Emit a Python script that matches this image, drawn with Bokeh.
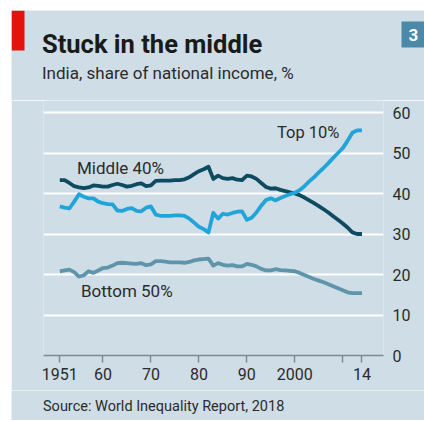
from bokeh.plotting import figure
from bokeh.models import Range1d, FixedTicker, Label, BoxAnnotation, Spacer
from bokeh.layouts import column, row
from bokeh.embed import file_html
from bokeh.resources import INLINE

years = list(range(1951, 2015))

middle40 = [43.3, 43.3, 42.6, 41.8, 41.5, 41.3, 41.5, 42.0, 41.9, 41.7,
            41.7, 42.1, 42.4, 42.1, 41.7, 41.9, 42.3, 42.5, 41.8, 42.0,
            43.1, 43.2, 43.2, 43.2, 43.3, 43.3, 43.5, 44.0, 44.8, 45.5,
            46.0, 46.6, 43.6, 44.4, 43.8, 43.6, 43.8, 43.4, 43.3, 44.4,
            44.2, 43.6, 42.6, 41.6, 41.2, 41.3, 40.9, 40.6, 40.3, 40.0,
            39.6, 39.0, 38.3, 37.6, 36.9, 36.1, 35.3, 34.4, 33.5, 32.6,
            31.6, 30.4, 30.0, 30.0]

top10 = [36.8, 36.5, 36.3, 38.0, 39.8, 39.2, 38.8, 38.8, 38.0, 37.6,
         37.4, 37.3, 35.8, 35.7, 36.2, 36.4, 35.7, 35.6, 36.5, 36.8,
         34.8, 34.5, 34.5, 34.5, 34.6, 34.6, 34.5, 33.8, 32.8, 31.8,
         31.2, 30.4, 35.2, 33.8, 35.0, 34.8, 35.2, 35.5, 35.6, 33.5,
         34.0, 35.3, 37.0, 38.4, 38.8, 38.3, 38.9, 39.4, 39.8, 40.2,
         40.8, 41.8, 43.0, 44.0, 45.2, 46.3, 47.5, 48.8, 50.0, 51.2,
         53.0, 55.0, 55.6, 55.6]

bottom50 = [20.8, 21.0, 21.2, 20.6, 19.5, 19.8, 20.8, 20.4, 21.0, 21.6,
            21.7, 22.2, 22.8, 22.9, 22.8, 22.7, 22.6, 22.8, 22.3, 22.5,
            23.3, 23.3, 23.2, 23.0, 23.0, 23.0, 22.9, 23.1, 23.5, 23.7,
            23.8, 23.9, 22.2, 22.8, 22.4, 22.2, 22.3, 22.0, 22.0, 22.6,
            22.4, 22.0, 21.4, 21.0, 21.0, 21.3, 21.1, 21.0, 20.9, 20.8,
            20.4, 19.9, 19.4, 18.9, 18.5, 18.1, 17.6, 17.1, 16.6, 16.1,
            15.6, 15.4, 15.4, 15.4]

x_ticks = [1951, 1960, 1970, 1980, 1990, 2000, 2010, 2014]
x_tick_labels = ["1951", "60", "70", "80", "90", "2000", "", "14"]
y_ticks = [0, 10, 20, 30, 40, 50, 60]
grid_ticks = [10, 20, 30, 40, 50, 60]

title_text = "Stuck in the middle"
subtitle_text = "India, share of national income, %"
source_text = "Source: World Inequality Report, 2018"
chart_number = "3"

PANEL = "#cedde6"
C_MID = "#0e4b60"
C_TOP = "#21a5d9"
C_BOT = "#5e95aa"
TXT = "#2b2b2b"
FONT = "Roboto"
K_BASE = 0.33  # empirical baseline correction (fraction of font size)

# page layout (screen px): panel starts at (11, 10)
X0, Y0 = 11, 10
W = 413
HEAD_H = 90          # screen y 10..100
MAIN_H = 290         # screen y 100..390
FOOT_H = 30          # screen y 390..420

# main frame (screen px)
FL, FR, FT, FB = 43, 383, 100, 355
PPX = 4.796
PPY = 4.05
xr0 = 1951 - (59.3 - FL) / PPX
xr1 = xr0 + (FR - FL) / PPX
yr1 = (FB - FT) / PPY


def dx(sx):
    return xr0 + (sx - FL) / PPX


def dy(sy):
    return (FB - sy) / PPY


def plain_fig(h):
    f = figure(width=W, height=h, x_range=Range1d(0, W), y_range=Range1d(0, h),
               output_backend="svg", toolbar_location=None,
               x_axis_location=None, y_axis_location=None, min_border=0)
    f.background_fill_color = PANEL
    f.border_fill_color = PANEL
    f.outline_line_color = None
    f.grid.visible = False
    return f


def add_text(f, text, x, y, size, bold=False, color=TXT, align="left", baseline="alphabetic"):
    f.add_layout(Label(x=x, y=y, text=text, text_font=FONT,
                       text_font_size="%gpx" % size, text_color=color,
                       text_font_style="bold" if bold else "normal",
                       text_align=align, text_baseline=baseline))


# ---------- header ----------
head = plain_fig(HEAD_H)
hb = Y0 + HEAD_H  # screen y of header bottom


def hx(sx):
    return sx - X0


def hy(sy):
    return hb - sy


head.add_layout(BoxAnnotation(left=hx(11), right=hx(24), top=hy(10), bottom=hy(50),
                              fill_color="#e3120b", fill_alpha=1, line_color=None))
head.add_layout(BoxAnnotation(left=hx(401), right=hx(424), top=hy(21), bottom=hy(47),
                              fill_color="#4a89a8", fill_alpha=1, line_color=None))
add_text(head, chart_number, hx(413), hy(34.5), 17, bold=True, color="white",
         align="center", baseline="middle")
add_text(head, title_text, hx(41.5), hy(51.7 - K_BASE * 25.5), 25.5, bold=True, color="#1a1a1a")
add_text(head, subtitle_text, hx(41.5), hy(78.3 - K_BASE * 17), 17)

# ---------- main chart ----------
p = figure(width=W, height=MAIN_H, x_range=Range1d(xr0, xr1), y_range=Range1d(0, yr1),
           output_backend="svg", toolbar_location=None, y_axis_location="right",
           min_border_left=FL - X0, min_border_right=(X0 + W) - FR,
           min_border_top=0, min_border_bottom=(hb + MAIN_H) - FB)
p.background_fill_color = PANEL
p.border_fill_color = PANEL
p.outline_line_color = None

p.xgrid.visible = False
p.ygrid.ticker = FixedTicker(ticks=grid_ticks)
p.ygrid.grid_line_color = "white"
p.ygrid.grid_line_width = 2.2

ya = p.yaxis[0]
ya.ticker = FixedTicker(ticks=y_ticks)
ya.axis_line_color = None
ya.major_tick_line_color = None
ya.minor_tick_line_color = None
ya.major_label_standoff = 3
ya.major_label_text_font = FONT
ya.major_label_text_font_size = "16px"
ya.major_label_text_color = TXT

xa = p.xaxis[0]
xa.ticker = FixedTicker(ticks=x_ticks)
xa.major_label_overrides = {t: l for t, l in zip(x_ticks, x_tick_labels)}
xa.axis_line_color = "#7d8b92"
xa.axis_line_width = 1.5
xa.major_tick_line_color = "#7d8b92"
xa.major_tick_line_width = 1.5
xa.major_tick_out = 7
xa.major_tick_in = 0
xa.minor_tick_line_color = None
xa.major_label_standoff = 5
xa.major_label_text_font = FONT
xa.major_label_text_font_size = "16px"
xa.major_label_text_color = TXT

p.line(years, middle40, line_color=C_MID, line_width=3.8, line_join="round")
p.line(years, top10, line_color=C_TOP, line_width=3.8, line_join="round")
p.line(years, bottom50, line_color=C_BOT, line_width=3.8, line_join="round")

add_text(p, "Middle 40%", dx(76.5), dy(173.3 - K_BASE * 17), 17)
add_text(p, "Top 10%", dx(276.5), dy(137 - K_BASE * 16.5), 16.5)
add_text(p, "Bottom 50%", dx(80.5), dy(296 - K_BASE * 17), 17)

# ---------- footer ----------
foot = plain_fig(FOOT_H)
fb = hb + MAIN_H + FOOT_H
add_text(foot, source_text, 42.5 - X0, fb - (411 - K_BASE * 14.5), 14.5)

layout = column(Spacer(height=Y0),
                row(Spacer(width=X0), head),
                row(Spacer(width=X0), p),
                row(Spacer(width=X0), foot))
open("out.html", "w").write(file_html(layout, INLINE))
